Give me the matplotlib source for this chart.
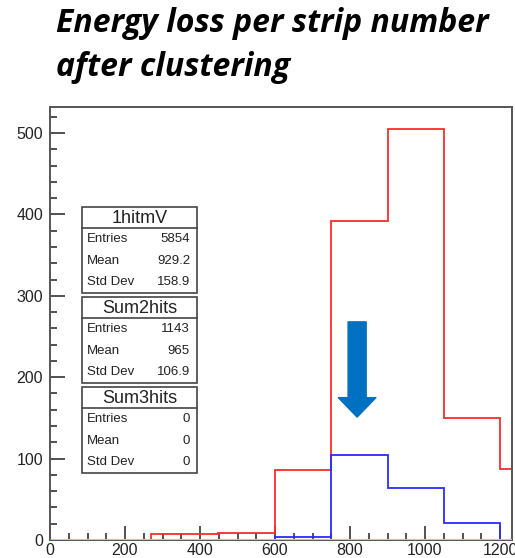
import matplotlib.pyplot as plt
from matplotlib.patches import Rectangle
from matplotlib.ticker import MultipleLocator

# histogram contents
red_edges = [268, 448, 600, 750, 900, 1050, 1200, 1300]
red_counts = [7, 8, 86, 392, 505, 150, 87]
blue_edges = [600, 750, 900, 1050, 1200]
blue_counts = [4, 104, 64, 21]
yellow_edges = [0, 1300]
yellow_counts = [0]

# stat boxes
stat_names = ["1hitmV", "Sum2hits", "Sum3hits"]
stat_entries = ["5854", "1143", "0"]
stat_means = ["929.2", "965", "0"]
stat_stds = ["158.9", "106.9", "0"]

W, H = 515, 558
fig = plt.figure(figsize=(W / 100, H / 100), dpi=100)
ax = fig.add_axes([50 / W, 18 / H, 462 / W, 433 / H])

ax.stairs(yellow_counts, yellow_edges, color="#ffcc00", lw=2.2, zorder=3)
ax.stairs(red_counts, red_edges, color="#ff2a2a", lw=1.3, zorder=2)
ax.stairs(blue_counts, blue_edges, color="#2a2aff", lw=1.3, zorder=2)

ax.set_xlim(0, 1232)
ax.set_ylim(0, 532)
ax.xaxis.set_major_locator(MultipleLocator(200))
ax.xaxis.set_minor_locator(MultipleLocator(50))
ax.yaxis.set_major_locator(MultipleLocator(100))
ax.yaxis.set_minor_locator(MultipleLocator(20))
ax.tick_params(which="both", direction="in", color="#333333", width=1.2,
               labelsize=11.5, labelcolor="#222222")
ax.tick_params(which="major", length=10)
ax.tick_params(which="minor", length=5)
ax.tick_params(axis="y", which="major", length=11, pad=5)
ax.tick_params(axis="x", which="major", pad=2)
for s in ax.spines.values():
    s.set_color("#555555")
    s.set_linewidth(1.4)
for lab in ax.get_xticklabels() + ax.get_yticklabels():
    lab.set_family(["Liberation Sans", "DejaVu Sans"])

# blue arrow pointing at the blue histogram
ax.annotate("", xy=(819, 151), xytext=(819, 268),
            arrowprops=dict(arrowstyle="simple,head_length=1.4,head_width=2.7,tail_width=1.3",
                            mutation_scale=10, color="#0070c0", shrinkA=0, shrinkB=0))

# title
fig.text(56 / W, 1 - 23 / H, "Energy loss per strip number", fontsize=23,
         fontweight="bold", fontstyle="italic", family="Open Sans",
         va="center", ha="left")
fig.text(56 / W, 1 - 67 / H, "after clustering", fontsize=23,
         fontweight="bold", fontstyle="italic", family="Open Sans",
         va="center", ha="left")

# ROOT-like stat boxes
box_x0, box_x1 = 82, 197
box_tops = [207, 297, 387]
box_h = 86
head_h = 21
for name, ent, mean, std, top in zip(stat_names, stat_entries, stat_means,
                                     stat_stds, box_tops):
    fig.patches.append(Rectangle((box_x0 / W, 1 - (top + box_h) / H),
                                 (box_x1 - box_x0) / W, box_h / H,
                                 transform=fig.transFigure, fill=True,
                                 facecolor="white", edgecolor="#444444", lw=1.2, zorder=5))
    fig.lines.append(plt.Line2D([box_x0 / W, box_x1 / W],
                                [1 - (top + head_h) / H] * 2,
                                transform=fig.transFigure, color="#444444", lw=1.2, zorder=6))
    fig.text((box_x0 + box_x1) / 2 / W, 1 - (top + head_h / 2 + 1) / H, name,
             ha="center", va="center", fontsize=13, family="Liberation Sans",
             color="#222222", zorder=7)
    for i, (lab, val) in enumerate(zip(["Entries", "Mean", "Std Dev"], [ent, mean, std])):
        y = 1 - (top + head_h + 11 + i * 21.5) / H
        fig.text(87 / W, y, lab, ha="left", va="center", fontsize=9.5,
                 family="Liberation Sans", color="#222222", zorder=7)
        fig.text(190 / W, y, val, ha="right", va="center", fontsize=9.5,
                 family="Liberation Sans", color="#222222", zorder=7)

fig.savefig("out.png", dpi=100)
